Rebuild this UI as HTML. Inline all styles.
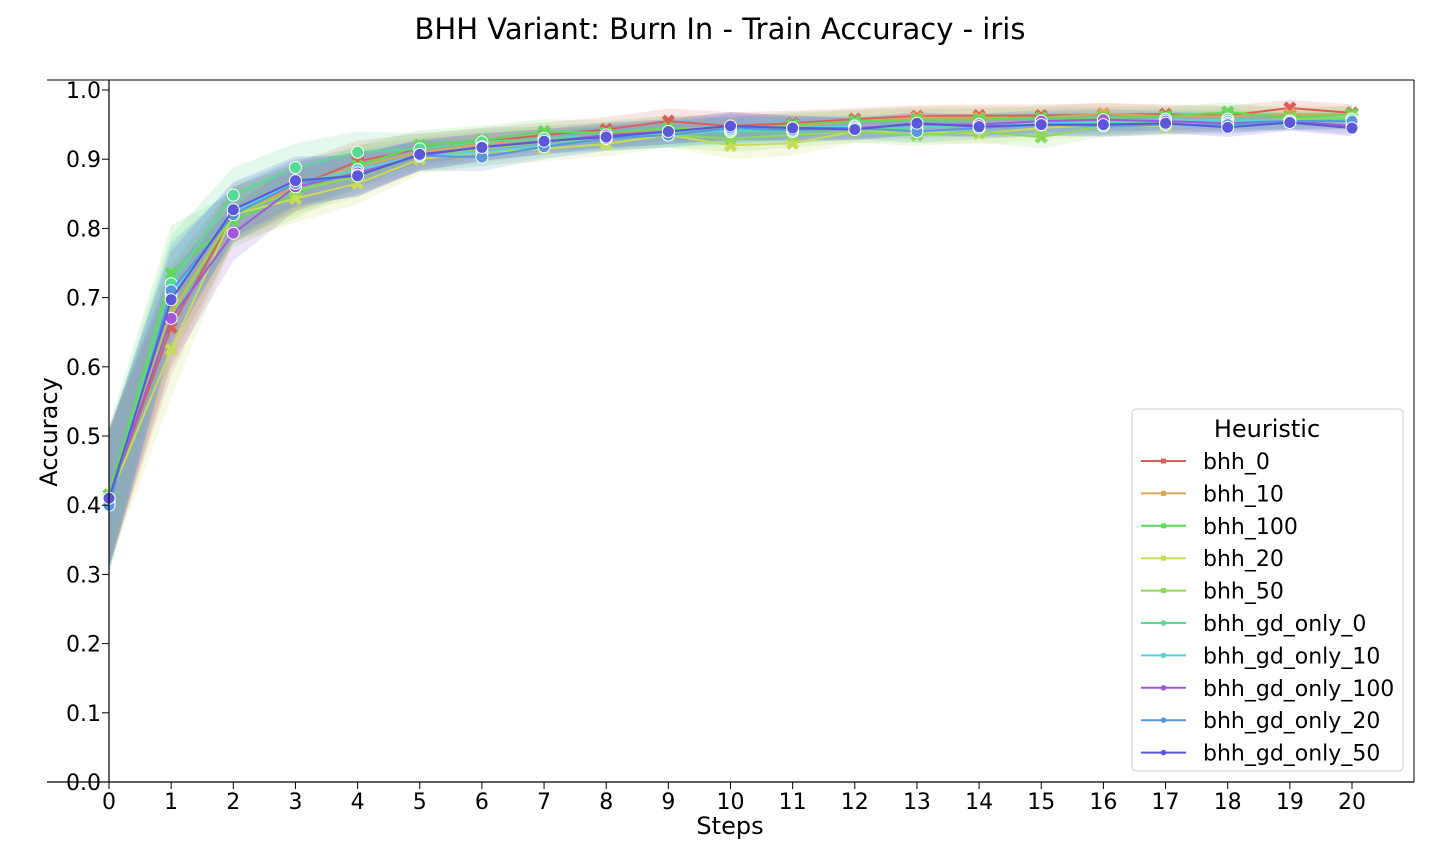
<!DOCTYPE html>
<html><head><meta charset="utf-8"><style>
body{margin:0;background:#fff;font-family:"DejaVu Sans",sans-serif}
svg text{font-family:"DejaVu Sans",sans-serif}
</style></head><body>
<svg id="c" width="1440" height="864" xmlns="http://www.w3.org/2000/svg">
<text x="720" y="39" text-anchor="middle" font-size="29">BHH Variant: Burn In - Train Accuracy - iris</text>
<g id="bands"></g>
<g id="lines"></g>
<g id="axes"></g>
<g id="legend"></g>
</svg>
<script>
const steps=[0,1,2,3,4,5,6,7,8,9,10,11,12,13,14,15,16,17,18,19,20];
const yTicks=[0,0.1,0.2,0.3,0.4,0.5,0.6,0.7,0.8,0.9,1.0];
const names=["bhh_0","bhh_10","bhh_100","bhh_20","bhh_50","bhh_gd_only_0","bhh_gd_only_10","bhh_gd_only_100","bhh_gd_only_20","bhh_gd_only_50"];
const colors=["#db5f57","#dba657","#5fdb57","#c9db57","#8bdb57","#57db94","#57d3db","#a357db","#5797db","#5a57db"];
const s_bhh_0=[0.41,0.657,0.82,0.86,0.897,0.915,0.925,0.935,0.943,0.955,0.948,0.952,0.958,0.962,0.963,0.963,0.965,0.965,0.963,0.974,0.967];
const s_bhh_10=[0.41,0.68,0.82,0.86,0.89,0.91,0.922,0.93,0.935,0.945,0.945,0.948,0.955,0.96,0.96,0.96,0.966,0.962,0.962,0.965,0.965];
const s_bhh_100=[0.415,0.735,0.812,0.849,0.89,0.92,0.928,0.94,0.938,0.945,0.94,0.95,0.955,0.957,0.957,0.96,0.96,0.962,0.968,0.96,0.965];
const s_bhh_20=[0.41,0.625,0.82,0.843,0.865,0.9,0.91,0.915,0.922,0.935,0.92,0.923,0.94,0.94,0.937,0.945,0.95,0.948,0.955,0.955,0.955];
const s_bhh_50=[0.41,0.675,0.82,0.855,0.875,0.905,0.915,0.925,0.93,0.935,0.93,0.935,0.94,0.935,0.94,0.932,0.948,0.95,0.955,0.958,0.96];
const s_gd0=[0.405,0.72,0.848,0.888,0.91,0.915,0.925,0.93,0.935,0.938,0.94,0.94,0.945,0.945,0.95,0.952,0.952,0.955,0.958,0.955,0.958];
const s_gd10=[0.405,0.705,0.825,0.865,0.885,0.905,0.91,0.92,0.93,0.935,0.942,0.945,0.948,0.948,0.95,0.952,0.955,0.958,0.955,0.955,0.955];
const s_gd100=[0.41,0.67,0.793,0.86,0.88,0.905,0.918,0.925,0.935,0.94,0.948,0.945,0.945,0.95,0.95,0.955,0.957,0.955,0.952,0.955,0.948];
const s_gd20=[0.4,0.71,0.82,0.865,0.877,0.905,0.903,0.918,0.93,0.935,0.945,0.942,0.945,0.94,0.945,0.95,0.948,0.95,0.95,0.955,0.955];
const s_gd50=[0.41,0.697,0.827,0.869,0.876,0.907,0.917,0.926,0.932,0.94,0.948,0.945,0.943,0.952,0.947,0.95,0.95,0.952,0.946,0.953,0.945];
const series=[s_bhh_0,s_bhh_10,s_bhh_100,s_bhh_20,s_bhh_50,s_gd0,s_gd10,s_gd100,s_gd20,s_gd50];
const ci=[0.1,0.07,0.04,0.035,0.03,0.022,0.02,0.018,0.018,0.018,0.02,0.018,0.016,0.016,0.016,0.016,0.016,0.014,0.014,0.012,0.012];
const X0=109,X1=1352,Y0=782,Y1=90;
const xs=v=>X0+(v-steps[0])/(steps[steps.length-1]-steps[0])*(X1-X0);
const ys=v=>Y0-(v-0)/(1-0)*(Y0-Y1);
const NS="http://www.w3.org/2000/svg";
function mk(t,a,p){const e=document.createElementNS(NS,t);for(const k in a)e.setAttribute(k,a[k]);p.appendChild(e);return e;}
const bands=document.getElementById('bands'),lines=document.getElementById('lines'),axes=document.getElementById('axes'),leg=document.getElementById('legend');
function marker(g,x,y,i,r){
  if(i<5){const d=r;const p=mk('path',{d:`M${x-d},${y-d}L${x+d},${y+d}M${x-d},${y+d}L${x+d},${y-d}`,stroke:colors[i],'stroke-width':r*0.9,'stroke-linecap':'butt'},g);return p;}
  return mk('circle',{cx:x,cy:y,r:r,fill:colors[i],stroke:'#fff','stroke-width':1},g);
}
series.forEach((s,i)=>{
  const up=s.map((v,j)=>xs(steps[j])+','+ys(Math.min(1,v+ci[j])));
  const lo=s.map((v,j)=>xs(steps[j])+','+ys(v-ci[j])).reverse();
  const b=mk('polygon',{points:up.concat(lo).join(' '),fill:colors[i],'fill-opacity':0.16},bands);
  
  
});
series.forEach((s,i)=>{
  const g=mk('g',{},lines);
  
  
  const l=mk('polyline',{points:s.map((v,j)=>xs(steps[j])+','+ys(v)).join(' '),fill:'none',stroke:colors[i],'stroke-width':2},g);
  
  
  s.forEach((v,j)=>{const m=marker(g,xs(steps[j]),ys(v),i,i<5?5:6);
    
    });
});
mk('line',{x1:47,y1:80,x2:1414,y2:80,stroke:'#000','stroke-width':1},axes);
mk('line',{x1:1414,y1:80,x2:1414,y2:782,stroke:'#000','stroke-width':1},axes);
mk('line',{x1:47,y1:782,x2:1414,y2:782,stroke:'#000','stroke-width':1.2},axes);
mk('line',{x1:109,y1:80,x2:109,y2:782,stroke:'#000','stroke-width':1.2},axes);
yTicks.forEach(t=>{const y=ys(t);
  mk('line',{x1:102,y1:y,x2:109,y2:y,stroke:'#000'},axes);
  const tx=mk('text',{x:101,y:y+8,'text-anchor':'end','font-size':22},axes);tx.textContent=t.toFixed(1);
  
  });
steps.forEach(t=>{const x=xs(t);
  mk('line',{x1:x,y1:782,x2:x,y2:789,stroke:'#000'},axes);
  const tx=mk('text',{x:x,y:809,'text-anchor':'middle','font-size':22},axes);tx.textContent=t;
  
  });
const xl=mk('text',{x:730,y:834,'text-anchor':'middle','font-size':24},axes);xl.textContent='Steps';


const yl=mk('text',{x:57,y:432,'text-anchor':'middle','font-size':24,transform:'rotate(-90 57 432)'},axes);yl.textContent='Accuracy';


mk('rect',{x:1132,y:409,width:271,height:362,rx:4,fill:'#fff','fill-opacity':0.85,stroke:'#ccc'},leg);
const lt=mk('text',{x:1267,y:437,'text-anchor':'middle','font-size':24},leg);lt.textContent='Heuristic';


names.forEach((n,i)=>{const y=461+i*32.4;
  const g=mk('g',{},leg);
  
  
  mk('line',{x1:1141,y1:y,x2:1186,y2:y,stroke:colors[i],'stroke-width':2},g);
  if(i<5)mk('rect',{x:1161,y:y-2.5,width:5,height:5,fill:colors[i]},g);else mk('circle',{cx:1163.5,cy:y,r:2.8,fill:colors[i]},g);
  const t=mk('text',{x:1203,y:y+8,'font-size':22},g);t.textContent=n;});
</script>
</body></html>
